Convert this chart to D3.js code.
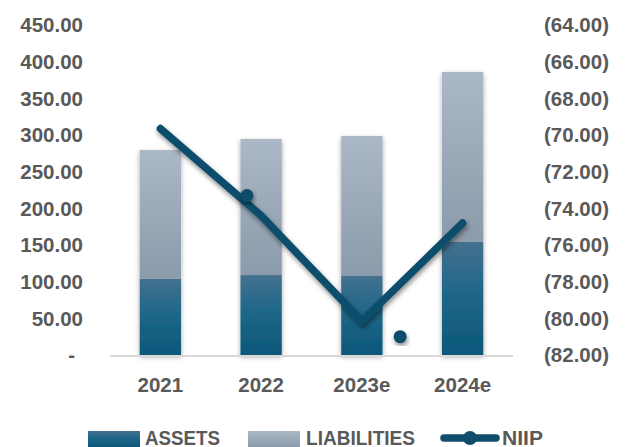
<!DOCTYPE html>
<html>
<head>
<meta charset="utf-8">
<script src="https://cdn.jsdelivr.net/npm/d3@7"></script>
<style>
  html, body { margin: 0; padding: 0; background: #ffffff; }
  svg { display: block; }
  text { font-family: "Liberation Sans", Arial, sans-serif; font-weight: bold; fill: #595959; }
</style>
</head>
<body>
<svg id="chart" width="625" height="447"></svg>
<script>
// Stacked balance sheet (assets + liabilities) with the net international investment position
const categories = ["2021", "2022", "2023e", "2024e"];
const assets = [104, 109, 107.7, 154.5];
const liabilities = [175.5, 185.5, 191, 231.5];
const niip = [-69.65, -74.4, -80.15, -74.8];
// NIIP point markers, placed at fractional category positions
const niipMarkerPos = [0.86, 2.38];
const niipMarkerValues = [-73.3, -81.0];
const leftTicks = [0, 50, 100, 150, 200, 250, 300, 350, 400, 450];
const rightTicks = [-64, -66, -68, -70, -72, -74, -76, -78, -80, -82];
const legendLabels = ["ASSETS", "LIABILITIES", "NIIP"];

const svg = d3.select("#chart");
const defs = svg.append("defs");

function vGrad(id, stops) {
  const g = defs.append("linearGradient").attr("id", id)
    .attr("x1", 0).attr("y1", 0).attr("x2", 0).attr("y2", 1);
  stops.forEach(s => g.append("stop").attr("offset", s[0]).attr("stop-color", s[1]));
}
vGrad("gAssets", [[0, "#44718f"], [0.45, "#1f6789"], [1, "#0b577a"]]);
vGrad("gLiab", [[0, "#abb8c5"], [1, "#8b9bab"]]);

const barShadow = defs.append("filter").attr("id", "barShadow")
  .attr("x", "-30%").attr("y", "-10%").attr("width", "160%").attr("height", "120%");
barShadow.append("feDropShadow").attr("dx", 0).attr("dy", 2).attr("stdDeviation", 2.5)
  .attr("flood-color", "#000").attr("flood-opacity", 0.35);

const lineShadow = defs.append("filter").attr("id", "lineShadow")
  .attr("x", "-20%").attr("y", "-20%").attr("width", "140%").attr("height", "140%");
lineShadow.append("feDropShadow").attr("dx", 1).attr("dy", 3).attr("stdDeviation", 2.5)
  .attr("flood-color", "#000").attr("flood-opacity", 0.45);

const x = d3.scaleBand().domain(categories).range([110, 513])
  .paddingInner(0.59).paddingOuter(0.295);
const yL = d3.scaleLinear().domain([0, 450]).range([355, 25]);
const yR = d3.scaleLinear().domain([-82, -64]).range([355, 25]);
const xc = c => x(c) + x.bandwidth() / 2;
const xIdx = d3.scaleLinear().domain([0, categories.length - 1])
  .range([xc(categories[0]), xc(categories[categories.length - 1])]);

// Left axis labels
svg.append("g").selectAll("text").data(leftTicks).join("text")
  .attr("x", d => d === 0 ? 75 : 83)
  .attr("y", d => yL(d))
  .attr("dy", "0.36em")
  .attr("text-anchor", "end")
  .attr("font-size", 20.5)
  .text(d => d === 0 ? "-" : d.toFixed(2));

// Right axis labels
svg.append("g").selectAll("text").data(rightTicks).join("text")
  .attr("x", 609)
  .attr("y", d => yR(d))
  .attr("dy", "0.36em")
  .attr("text-anchor", "end")
  .attr("font-size", 20.5)
  .text(d => "(" + Math.abs(d).toFixed(2) + ")");

// Stacked bars
const stackData = categories.map((c, i) => ({ cat: c, assets: assets[i], liabilities: liabilities[i] }));
const series = d3.stack().keys(["assets", "liabilities"])(stackData);
const fills = { assets: "url(#gAssets)", liabilities: "url(#gLiab)" };

const barGroups = svg.append("g").selectAll("g").data(categories).join("g")
  .attr("filter", "url(#barShadow)");
barGroups.each(function (c, i) {
  const g = d3.select(this);
  series.forEach(s => {
    const seg = s[i];
    g.append("rect")
      .attr("x", x(c))
      .attr("width", x.bandwidth())
      .attr("y", yL(seg[1]))
      .attr("height", yL(seg[0]) - yL(seg[1]))
      .attr("fill", fills[s.key]);
  });
});

// Category axis line
svg.append("line")
  .attr("x1", x.range()[0]).attr("x2", x.range()[1])
  .attr("y1", yL(0) + 1).attr("y2", yL(0) + 1)
  .attr("stroke", "#d9d9d9").attr("stroke-width", 2);

// Category labels
svg.append("g").selectAll("text").data(categories).join("text")
  .attr("x", d => xc(d))
  .attr("y", 392)
  .attr("text-anchor", "middle")
  .attr("font-size", 20.5)
  .text(d => d);

// NIIP line
const lineColor = "#0f4d6c";
const line = d3.line().x((d, i) => xc(categories[i])).y(d => yR(d));
svg.append("path")
  .datum(niip)
  .attr("d", line)
  .attr("fill", "none")
  .attr("stroke", lineColor)
  .attr("stroke-width", 7.5)
  .attr("stroke-linecap", "round")
  .attr("stroke-linejoin", "round")
  .attr("filter", "url(#lineShadow)");

// NIIP markers
svg.append("g").selectAll("circle").data(niipMarkerValues).join("circle")
  .attr("cx", (d, i) => xIdx(niipMarkerPos[i]))
  .attr("cy", d => yR(d))
  .attr("r", 6.5)
  .attr("fill", lineColor)
  .attr("filter", "url(#lineShadow)");

// Legend
const lg = svg.append("g");
const legendBase = 444.5;
lg.append("rect").attr("x", 88).attr("y", 431).attr("width", 52).attr("height", 16).attr("fill", "url(#gAssets)");
lg.append("text").attr("x", 145).attr("y", legendBase).attr("font-size", 20)
  .attr("textLength", 75).attr("lengthAdjust", "spacingAndGlyphs").text(legendLabels[0]);
lg.append("rect").attr("x", 248).attr("y", 431).attr("width", 52).attr("height", 16).attr("fill", "url(#gLiab)");
lg.append("text").attr("x", 306).attr("y", legendBase).attr("font-size", 20)
  .attr("textLength", 109).attr("lengthAdjust", "spacingAndGlyphs").text(legendLabels[1]);
lg.append("line").attr("x1", 444).attr("x2", 496).attr("y1", 438).attr("y2", 438)
  .attr("stroke", lineColor).attr("stroke-width", 7.5).attr("stroke-linecap", "round");
lg.append("circle").attr("cx", 470).attr("cy", 438).attr("r", 7).attr("fill", lineColor);
lg.append("text").attr("x", 502).attr("y", legendBase).attr("font-size", 20)
  .attr("textLength", 41).attr("lengthAdjust", "spacingAndGlyphs").text(legendLabels[2]);
</script>
</body>
</html>
